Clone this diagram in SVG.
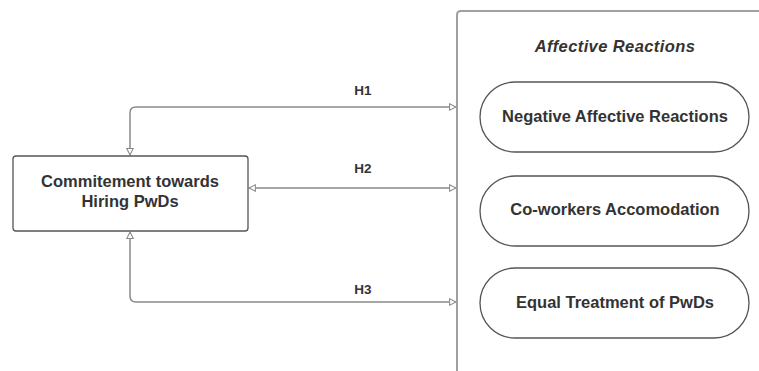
<svg xmlns="http://www.w3.org/2000/svg" width="759" height="371" viewBox="0 0 759 371">
<style>
  .lbl{font-family:"Liberation Sans",Arial,sans-serif;font-weight:bold;fill:#333;text-anchor:middle}
  .node{fill:#fff;stroke:#555;stroke-width:1.3}
  .conn{fill:none;stroke:#8a8a8a;stroke-width:1.5;marker-start:url(#ah);marker-end:url(#ah)}
</style>
<defs>
  <marker id="ah" viewBox="0 0 10 10" refX="9" refY="5" markerWidth="8" markerHeight="8" markerUnits="userSpaceOnUse" orient="auto-start-reverse">
    <path d="M1,1 L9,5 L1,9 Z" fill="#fff" stroke="#8a8a8a" stroke-width="1.3"/>
  </marker>
</defs>
<rect width="759" height="371" fill="#fff"/>
<g id="container">
  <path d="M457,380 L457,15 Q457,11 461,11 L770,11" fill="none" stroke="#a0a0a0" stroke-width="2"/>
  <text class="lbl" x="615" y="52" font-size="16.5" font-style="italic" letter-spacing="0.4">Affective Reactions</text>
</g>
<g id="connectors">
  <path class="conn" d="M130,155 L130,113 Q130,107 136,107 L456,107"/>
  <path class="conn" d="M249,188 L456,188"/>
  <path class="conn" d="M130,232 L130,296 Q130,302 136,302 L456,302"/>
  <text class="lbl" x="363" y="95" font-size="13.5">H1</text>
  <text class="lbl" x="363" y="173" font-size="13.5">H2</text>
  <text class="lbl" x="363" y="294" font-size="13.5">H3</text>
</g>
<g id="commitment">
  <rect class="node" x="13" y="156" width="235" height="75" rx="3"/>
  <text class="lbl" x="130" y="187" font-size="16.5">Commitement towards</text>
  <text class="lbl" x="130" y="207" font-size="16.5">Hiring PwDs</text>
</g>
<g id="negative">
  <rect class="node" x="480" y="82" width="269" height="70" rx="35"/>
  <text class="lbl" x="615" y="122" font-size="16.5">Negative Affective Reactions</text>
</g>
<g id="coworkers">
  <rect class="node" x="480" y="176" width="269" height="70" rx="35"/>
  <text class="lbl" x="615" y="215" font-size="16.5">Co-workers Accomodation</text>
</g>
<g id="equal">
  <rect class="node" x="480" y="268" width="269" height="70" rx="35"/>
  <text class="lbl" x="615" y="308" font-size="16.5">Equal Treatment of PwDs</text>
</g>
</svg>
